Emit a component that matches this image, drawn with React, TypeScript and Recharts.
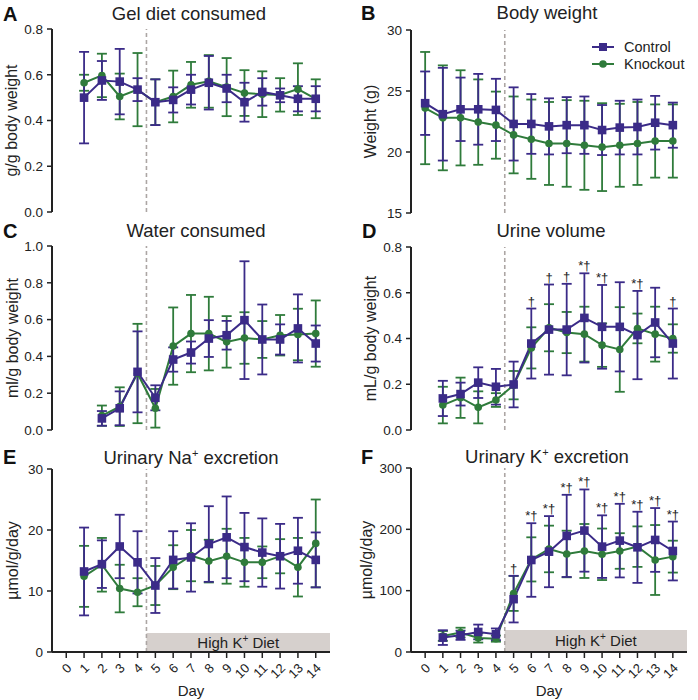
import React from 'react';
import {
  LineChart,
  Line,
  XAxis,
  YAxis,
  ErrorBar,
  ReferenceLine,
  ReferenceArea,
  LabelList,
  Legend,
} from 'recharts';

const PURPLE = '#3b2b88';
const GREEN = '#2f7b3b';
const INK = '#222222';
const FONT = '"Liberation Sans", Arial, Helvetica, sans-serif';

const dayTicks = [0, 1, 2, 3, 4, 5, 6, 7, 8, 9, 10, 11, 12, 13, 14];

// Panel A: Gel diet consumed (g/g body weight)
const daysA = [1, 2, 3, 4, 5, 6, 7, 8, 9, 10, 11, 12, 13, 14];
const ctrlA = [0.5, 0.575, 0.57, 0.535, 0.48, 0.49, 0.535, 0.565, 0.54, 0.48, 0.525, 0.51, 0.495, 0.495];
const ctrlAErr = [0.2, 0.085, 0.143, 0.05, 0.1, 0.055, 0.065, 0.117, 0.06, 0.085, 0.06, 0.03, 0.055, 0.055];
const koA = [0.565, 0.597, 0.505, 0.535, 0.48, 0.505, 0.556, 0.571, 0.546, 0.52, 0.515, 0.512, 0.537, 0.495];
const koAErr = [0.035, 0.095, 0.1, 0.16, 0.1, 0.113, 0.1, 0.115, 0.127, 0.1, 0.1, 0.073, 0.113, 0.085];

// Panel B: Body weight (g)
const daysB = [0, 1, 2, 3, 4, 5, 6, 7, 8, 9, 10, 11, 12, 13, 14];
const ctrlB = [24.0, 23.1, 23.5, 23.5, 23.45, 22.3, 22.3, 22.1, 22.2, 22.2, 21.8, 22.0, 22.05, 22.4, 22.2];
const ctrlBErr = [2.6, 3.8, 2.6, 2.9, 2.55, 3.0, 2.45, 2.3, 2.3, 2.35, 2.05, 2.2, 2.25, 2.2, 1.85];
const koB = [23.6, 22.8, 22.8, 22.45, 22.2, 21.4, 21.05, 20.7, 20.7, 20.55, 20.4, 20.55, 20.7, 20.9, 20.9];
const koBErr = [4.6, 4.3, 3.9, 3.5, 2.75, 3.15, 3.25, 3.4, 3.55, 3.65, 3.6, 3.4, 3.4, 3.0, 3.0];

// Panel C: Water consumed (ml/g body weight)
const daysC = [2, 3, 4, 5, 6, 7, 8, 9, 10, 11, 12, 13, 14];
const ctrlC = [0.063, 0.118, 0.316, 0.175, 0.383, 0.421, 0.497, 0.515, 0.597, 0.492, 0.492, 0.552, 0.47];
const ctrlCErr = [0.04, 0.092, 0.22, 0.068, 0.066, 0.06, 0.1, 0.078, 0.32, 0.19, 0.082, 0.185, 0.098];
const koC = [0.078, 0.127, 0.307, 0.118, 0.456, 0.524, 0.524, 0.479, 0.5, 0.492, 0.515, 0.519, 0.524];
const koCErr = [0.055, 0.105, 0.27, 0.105, 0.21, 0.21, 0.2, 0.14, 0.14, 0.1, 0.11, 0.14, 0.18];

// Panel D: Urine volume (mL/g body weight)
const daysD = [1, 2, 3, 4, 5, 6, 7, 8, 9, 10, 11, 12, 13, 14];
const ctrlD = [0.138, 0.157, 0.207, 0.189, 0.199, 0.378, 0.439, 0.439, 0.49, 0.451, 0.451, 0.415, 0.47, 0.378];
const ctrlDErr = [0.077, 0.05, 0.067, 0.078, 0.1, 0.153, 0.197, 0.2, 0.195, 0.183, 0.195, 0.193, 0.152, 0.153];
const koD = [0.109, 0.141, 0.099, 0.131, 0.196, 0.359, 0.447, 0.426, 0.419, 0.371, 0.352, 0.444, 0.419, 0.4];
const koDErr = [0.08, 0.088, 0.07, 0.03, 0.062, 0.09, 0.103, 0.09, 0.12, 0.095, 0.185, 0.065, 0.12, 0.062];
const annotD = ['', '', '', '', '', '†', '†', '†', '*†', '*†', '', '*†', '', '†'];

// Panel E: Urinary Na+ excretion (µmol/g/day)
const daysE = [1, 2, 3, 4, 5, 6, 7, 8, 9, 10, 11, 12, 13, 14];
const ctrlE = [13.2, 14.4, 17.3, 14.7, 10.9, 15.1, 15.5, 17.7, 18.8, 17.2, 16.3, 15.7, 16.6, 15.1];
const ctrlEErr = [7.2, 3.9, 5.2, 5.1, 4.5, 4.7, 5.6, 6.2, 6.7, 5.6, 5.6, 5.3, 5.4, 4.5];
const koE = [12.4, 14.3, 10.4, 9.8, 10.9, 13.9, 15.8, 14.9, 15.7, 14.7, 14.7, 15.7, 13.9, 17.8];
const koEErr = [5.0, 4.4, 3.9, 2.3, 3.2, 3.6, 4.2, 3.5, 4.5, 4.0, 2.6, 2.8, 4.8, 7.2];

// Panel F: Urinary K+ excretion (µmol/g/day)
const daysF = [1, 2, 3, 4, 5, 6, 7, 8, 9, 10, 11, 12, 13, 14];
const ctrlF = [23.5, 27.3, 32.7, 28.9, 86.2, 150, 163.6, 189.3, 198, 171.8, 181.6, 170.7, 182.7, 164.7];
const ctrlFErr = [12, 7.5, 12, 9.5, 38, 60, 58, 67, 67, 51, 60, 58, 52, 48];
const koF = [26.2, 31.6, 22.9, 21.8, 95.5, 151, 168, 159.8, 164.7, 159.3, 164.7, 171.8, 150, 155.5];
const koFErr = [8, 8, 7.5, 5, 28.5, 36, 38, 38, 44, 42, 29, 33, 57, 26];
const annotF = ['', '', '', '', '†', '*†', '*†', '*†', '*†', '*†', '*†', '*†', '*†', '*†'];

function buildRows(
  days: number[],
  ctrl: number[],
  ctrlErr: number[],
  ko: number[],
  koErr: number[],
  annot?: string[]
) {
  return days.map((d, i) => ({
    day: d,
    ctrl: ctrl[i],
    ctrlErr: ctrlErr[i],
    ko: ko[i],
    koErr: koErr[i],
    annot: annot ? annot[i] : '',
    annotY: ctrl[i] + ctrlErr[i],
  }));
}

const SquareDot = (props: any) => {
  const { cx, cy, index } = props;
  if (cx == null || cy == null) return <g key={`sq-${index}`} />;
  return <rect key={`sq-${index}`} x={cx - 4.3} y={cy - 4.3} width={8.6} height={8.6} fill={PURPLE} />;
};

const AnnotLabel = (props: any) => {
  const { x, y, value, index } = props;
  if (!value) return <g key={`an-${index}`} />;
  return (
    <text key={`an-${index}`} x={x} y={y - 3} textAnchor="middle" fontSize={13} fill={INK}>
      {value}
    </text>
  );
};

const DietLabel = (props: any) => {
  const vb = props.viewBox || {};
  const cx = vb.x + vb.width / 2;
  const cy = vb.y + vb.height / 2;
  return (
    <text x={cx} y={cy + 5} textAnchor="middle" fontSize={15} fill={INK}>
      High K
      <tspan dy={-6} fontSize={10}>
        +
      </tspan>
      <tspan dy={6}> Diet</tspan>
    </text>
  );
};

const RotTick = (props: any) => {
  const { x, y, payload } = props;
  return (
    <text
      x={0}
      y={0}
      transform={`translate(${x + 6},${y + 9}) rotate(-45)`}
      textAnchor="end"
      fontSize={13}
      fill={INK}
    >
      {payload.value}
    </text>
  );
};

const LegendBox = () => (
  <div style={{ fontSize: 14.5, color: INK, fontFamily: FONT }}>
    <div style={{ display: 'flex', alignItems: 'center', height: 17.5 }}>
      <svg width={22} height={12}>
        <line x1={0} y1={6} x2={22} y2={6} stroke={PURPLE} strokeWidth={2} />
        <rect x={7} y={2} width={8} height={8} fill={PURPLE} />
      </svg>
      <span style={{ marginLeft: 10 }}>Control</span>
    </div>
    <div style={{ display: 'flex', alignItems: 'center', height: 17.5 }}>
      <svg width={22} height={12}>
        <line x1={0} y1={6} x2={22} y2={6} stroke={GREEN} strokeWidth={2} />
        <circle cx={11} cy={6} r={3.8} fill={GREEN} />
      </svg>
      <span style={{ marginLeft: 10 }}>Knockout</span>
    </div>
  </div>
);

type PanelProps = {
  left: number;
  top: number;
  width: number;
  height: number;
  margin: { top: number; right: number; bottom: number; left: number };
  yWidth: number;
  rows: any[];
  yDomain: [number, number];
  yTicks: number[];
  yDigits: number;
  showX?: boolean;
  dietTop?: number;
  annot?: boolean;
  legend?: boolean;
};

function Panel(p: PanelProps) {
  return (
    <div style={{ position: 'absolute', left: p.left, top: p.top, width: p.width, height: p.height }}>
      <LineChart width={p.width} height={p.height} data={p.rows} margin={p.margin}>
        <XAxis
          type="number"
          dataKey="day"
          domain={[-0.8, 14.8]}
          ticks={dayTicks}
          interval={0}
          allowDataOverflow
          hide={!p.showX}
          height={48}
          axisLine={{ stroke: INK, strokeWidth: 2 }}
          tickLine={{ stroke: INK, strokeWidth: 1.5 }}
          tickSize={6}
          tick={<RotTick />}
          label={{ value: 'Day', position: 'insideBottom', offset: 4, fontSize: 15, fill: INK }}
        />
        <YAxis
          type="number"
          domain={p.yDomain}
          ticks={p.yTicks}
          interval={0}
          allowDataOverflow
          width={p.yWidth}
          axisLine={{ stroke: INK, strokeWidth: 2 }}
          tickLine={{ stroke: INK, strokeWidth: 1.5 }}
          tickSize={5}
          tickMargin={4}
          tick={{ fill: INK, fontSize: 13.5 }}
          tickFormatter={(v: number) => v.toFixed(p.yDigits)}
        />
        {p.dietTop != null && (
          <ReferenceArea
            x1={4.5}
            x2={14.8}
            y1={0}
            y2={p.dietTop}
            fill="#d6d0cd"
            fillOpacity={1}
            stroke="none"
            label={DietLabel}
          />
        )}
        <ReferenceLine x={4.5} stroke="#aca6a4" strokeDasharray="4 3" strokeWidth={1.6} />
        <Line
          dataKey="ko"
          stroke={GREEN}
          strokeWidth={2}
          dot={{ r: 3.8, fill: GREEN, stroke: GREEN, strokeWidth: 0 }}
          activeDot={false}
          isAnimationActive={false}
        >
          <ErrorBar dataKey="koErr" width={5} strokeWidth={1.8} stroke={GREEN} direction="y" />
        </Line>
        <Line
          dataKey="ctrl"
          stroke={PURPLE}
          strokeWidth={2}
          dot={SquareDot}
          activeDot={false}
          isAnimationActive={false}
        >
          <ErrorBar dataKey="ctrlErr" width={5} strokeWidth={1.8} stroke={PURPLE} direction="y" />
        </Line>
        {p.annot && (
          <Line
            dataKey="annotY"
            stroke="none"
            dot={false}
            activeDot={false}
            legendType="none"
            isAnimationActive={false}
          >
            <LabelList dataKey="annot" content={AnnotLabel} />
          </Line>
        )}
        {p.legend && (
          <Legend
            content={LegendBox}
            layout="vertical"
            align="center"
            verticalAlign="middle"
            wrapperStyle={{ left: 243, top: 38, width: 'auto', height: 'auto' }}
          />
        )}
      </LineChart>
    </div>
  );
}

const Title = ({ x, y, children }: any) => (
  <text x={x} y={y} textAnchor="middle" fontSize={18.5} fill={INK}>
    {children}
  </text>
);

const Letter = ({ x, y, t }: any) => (
  <text x={x} y={y} fontSize={20} fontWeight="bold" fill="#111">
    {t}
  </text>
);

const YLab = ({ x, y, t }: any) => (
  <text
    transform={`translate(${x},${y}) rotate(-90)`}
    textAnchor="middle"
    dominantBaseline="central"
    fontSize={16}
    fill={INK}
  >
    {t}
  </text>
);

export default function App() {
  const rowsA = buildRows(daysA, ctrlA, ctrlAErr, koA, koAErr);
  const rowsB = buildRows(daysB, ctrlB, ctrlBErr, koB, koBErr);
  const rowsC = buildRows(daysC, ctrlC, ctrlCErr, koC, koCErr);
  const rowsD = buildRows(daysD, ctrlD, ctrlDErr, koD, koDErr, annotD);
  const rowsE = buildRows(daysE, ctrlE, ctrlEErr, koE, koEErr);
  const rowsF = buildRows(daysF, ctrlF, ctrlFErr, koF, koFErr, annotF);

  return (
    <div
      style={{
        position: 'absolute',
        left: 0,
        top: 0,
        width: 698,
        height: 700,
        background: '#ffffff',
        fontFamily: FONT,
        overflow: 'hidden',
      }}
    >
      <Panel left={0} top={0} width={349} height={225} margin={{ top: 29, right: 19, bottom: 13, left: 0 }} yWidth={52}
        rows={rowsA} yDomain={[0, 0.8]} yTicks={[0, 0.2, 0.4, 0.6, 0.8]} yDigits={1} />
      <Panel left={349} top={0} width={349} height={225} margin={{ top: 30, right: 11, bottom: 12, left: 0 }} yWidth={62}
        rows={rowsB} yDomain={[15, 30]} yTicks={[15, 20, 25, 30]} yDigits={0} legend />
      <Panel left={0} top={225} width={349} height={225} margin={{ top: 21, right: 19, bottom: 20, left: 0 }} yWidth={52}
        rows={rowsC} yDomain={[0, 1]} yTicks={[0, 0.2, 0.4, 0.6, 0.8, 1.0]} yDigits={1} />
      <Panel left={349} top={225} width={349} height={225} margin={{ top: 22, right: 11, bottom: 20, left: 0 }} yWidth={62}
        rows={rowsD} yDomain={[0, 0.8]} yTicks={[0, 0.2, 0.4, 0.6, 0.8]} yDigits={1} annot />
      <Panel left={0} top={450} width={349} height={250} margin={{ top: 19, right: 19, bottom: 0, left: 0 }} yWidth={52}
        rows={rowsE} yDomain={[0, 30]} yTicks={[0, 10, 20, 30]} yDigits={0} showX dietTop={3.1} />
      <Panel left={349} top={450} width={349} height={250} margin={{ top: 18, right: 11, bottom: 0, left: 0 }} yWidth={62}
        rows={rowsF} yDomain={[0, 300]} yTicks={[0, 100, 200, 300]} yDigits={0} showX dietTop={36} annot />

      <svg
        width={698}
        height={700}
        style={{ position: 'absolute', left: 0, top: 0, pointerEvents: 'none' }}
      >
        <Letter x={3} y={21} t="A" />
        <Letter x={361} y={20} t="B" />
        <Letter x={3} y={238} t="C" />
        <Letter x={362} y={238} t="D" />
        <Letter x={3} y={464} t="E" />
        <Letter x={361} y={464} t="F" />

        <Title x={189} y={20}>Gel diet consumed</Title>
        <Title x={547} y={19}>Body weight</Title>
        <Title x={196} y={237}>Water consumed</Title>
        <Title x={551} y={237}>Urine volume</Title>
        <Title x={191} y={464}>
          Urinary Na
          <tspan dy={-7} fontSize={11}>+</tspan>
          <tspan dy={7}> excretion</tspan>
        </Title>
        <Title x={547} y={463}>
          Urinary K
          <tspan dy={-7} fontSize={11}>+</tspan>
          <tspan dy={7}> excretion</tspan>
        </Title>

        <YLab x={11} y={120.5} t="g/g body weight" />
        <YLab x={370} y={121.5} t="Weight (g)" />
        <YLab x={12} y={338} t="ml/g body weight" />
        <YLab x={370} y={338.5} t="mL/g body weight" />
        <YLab x={12} y={560.5} t="µmol/g/day" />
        <YLab x={366} y={560} t="µmol/g/day" />
      </svg>
    </div>
  );
}
